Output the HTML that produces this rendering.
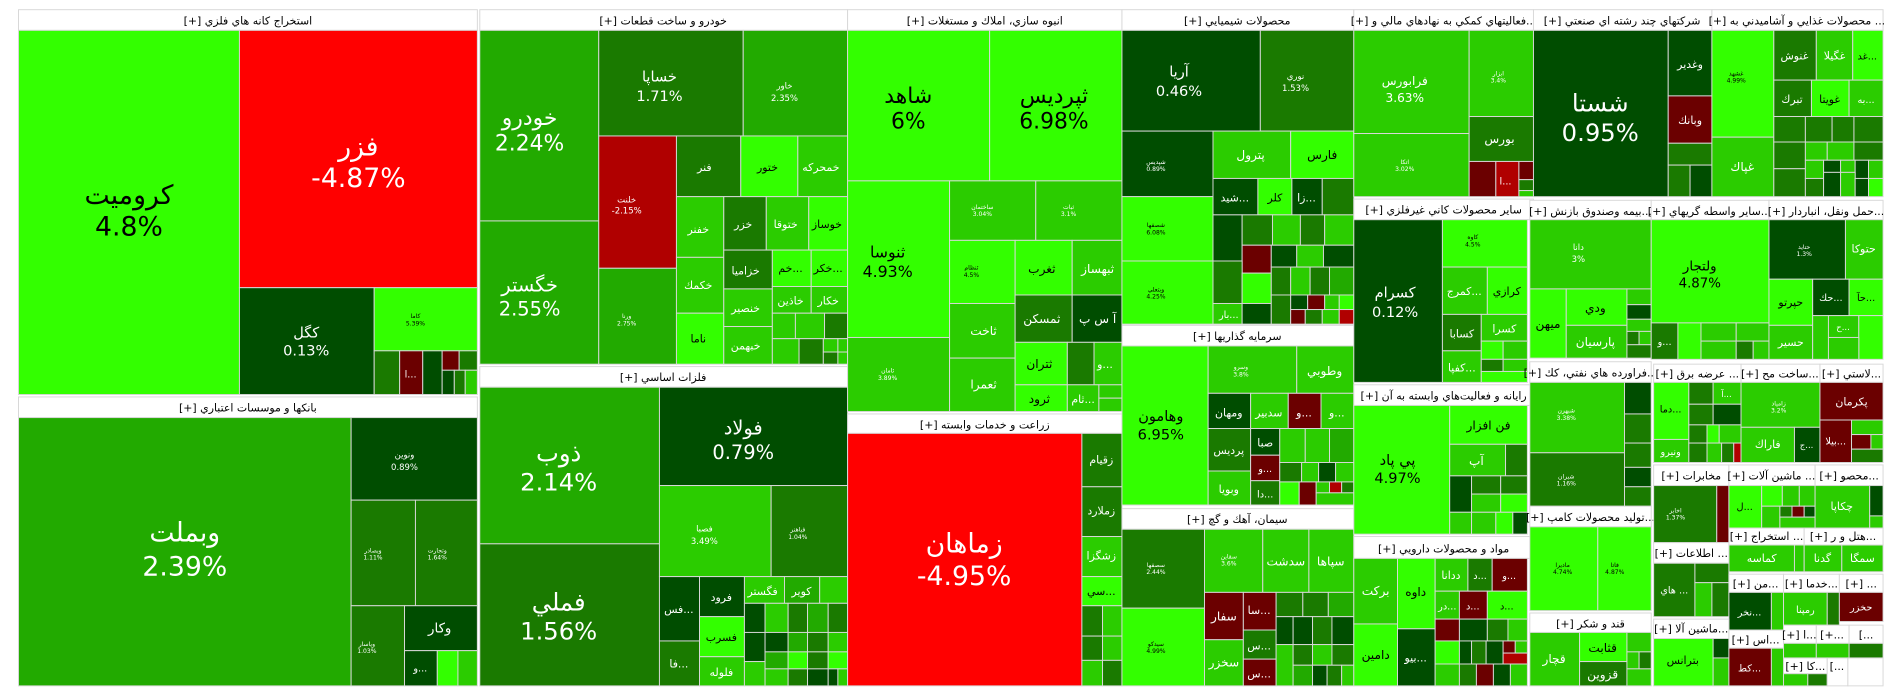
<!DOCTYPE html>
<html><head><meta charset="utf-8"><style>
html,body{margin:0;padding:0;background:#fff;width:1904px;height:698px;overflow:hidden}
svg{display:block}
.B{fill:#33ff00}.M{fill:#2bcc00}.G{fill:#22aa00}.K{fill:#1a7a00}.D{fill:#004d00}.X{fill:#6b0000}.R{fill:#ff0000}.Q{fill:#b00000}.W{fill:#fff}
rect{stroke:#d8d8d8;stroke-width:0.8}
text{font-family:"DejaVu Sans","Liberation Sans",sans-serif;text-anchor:middle;fill:#fff}
.k{fill:#000}
.h{fill:#000;font-size:9px}
</style></head><body>
<svg width="1904" height="698" viewBox="0 0 1568 575" xmlns="http://www.w3.org/2000/svg">
<!-- Sector 1 -->
<rect class="W" x="15" y="8" width="378" height="17"/><text class="h" x="204" y="20">[+] استخراج كانه هاي فلزي</text>
<rect class="B" x="15" y="25" width="182" height="300"/><text class="k" x="106" y="168" font-size="22">كروميت</text><text class="k" x="106" y="194" font-size="22">4.8%</text>
<rect class="R" x="197" y="25" width="196" height="212"/><text x="295" y="128" font-size="22">فزر</text><text x="295" y="154" font-size="22">-4.87%</text>
<rect class="D" x="197" y="237" width="111" height="88"/><text x="252" y="278" font-size="12">كگل</text><text x="252" y="293" font-size="12">0.13%</text>
<rect class="B" x="308" y="237" width="85" height="52"/><text class="k" x="342" y="262" font-size="5">كاما</text><text class="k" x="342" y="268" font-size="5">5.39%</text>
<rect class="K" x="308" y="289" width="21" height="36"/><rect class="X" x="329" y="289" width="19" height="36"/><text x="338" y="311" font-size="8">ا...</text>
<rect class="D" x="348" y="289" width="16" height="36"/><rect class="X" x="364" y="289" width="14" height="16"/><rect class="K" x="378" y="289" width="15" height="16"/>
<rect class="D" x="364" y="305" width="10" height="20"/><rect class="K" x="374" y="305" width="9" height="20"/><rect class="M" x="383" y="305" width="10" height="20"/>
<!-- Banks -->
<rect class="W" x="15" y="327" width="378" height="17"/><text class="h" x="204" y="339">[+] بانكها و موسسات اعتباري</text>
<rect class="G" x="15" y="344" width="274" height="221"/><text x="152" y="446" font-size="22">وبملت</text><text x="152" y="474" font-size="22">2.39%</text>
<rect class="D" x="289" y="344" width="104" height="68"/><text x="333" y="377" font-size="7">ونوين</text><text x="333" y="387" font-size="7">0.89%</text>
<rect class="K" x="289" y="412" width="53" height="87"/><text x="307" y="455" font-size="5">وبصادر</text><text x="307" y="461" font-size="5">1.11%</text>
<rect class="K" x="342" y="412" width="51" height="87"/><text x="360" y="455" font-size="5">وتجارت</text><text x="360" y="461" font-size="5">1.64%</text>
<rect class="K" x="289" y="499" width="44" height="66"/><text x="302" y="532" font-size="5">وپاسار</text><text x="302" y="538" font-size="5">1.03%</text>
<rect class="D" x="333" y="499" width="60" height="37"/><text x="362" y="521" font-size="11">وكار</text>
<rect class="D" x="333" y="536" width="27" height="29"/><text x="346" y="553" font-size="8">و...</text>
<rect class="B" x="360" y="536" width="17" height="29"/><rect class="M" x="377" y="536" width="16" height="29"/>
<!-- Auto -->
<rect class="W" x="395" y="8" width="303" height="17"/><text class="h" x="546" y="20">[+] خودرو و ساخت قطعات</text>
<rect class="G" x="395" y="25" width="98" height="157"/><text x="436" y="103" font-size="18">خودرو</text><text x="436" y="124" font-size="18">2.24%</text>
<rect class="G" x="395" y="182" width="98" height="118"/><text x="436" y="240" font-size="16">خگستر</text><text x="436" y="260" font-size="16">2.55%</text>
<rect class="K" x="493" y="25" width="119" height="87"/><text x="543" y="67" font-size="12">خساپا</text><text x="543" y="83" font-size="12">1.71%</text>
<rect class="G" x="612" y="25" width="86" height="87"/><text x="646" y="73" font-size="7">خاور</text><text x="646" y="83" font-size="7">2.35%</text>
<rect class="Q" x="493" y="112" width="64" height="109"/><text x="516" y="167" font-size="7">خلنت</text><text x="516" y="176" font-size="7">-2.15%</text>
<rect class="G" x="493" y="221" width="64" height="79"/><text x="516" y="262" font-size="5">ورنا</text><text x="516" y="268" font-size="5">2.75%</text>
<rect class="K" x="557" y="112" width="53" height="50"/><text x="580" y="141" font-size="9">فنر</text>
<rect class="B" x="610" y="112" width="47" height="50"/><text class="k" x="632" y="141" font-size="9">ختور</text>
<rect class="M" x="657" y="112" width="41" height="50"/><text x="676" y="141" font-size="9">خمحركه</text>
<rect class="M" x="557" y="162" width="39" height="50"/><text x="575" y="192" font-size="9">خفنر</text>
<rect class="K" x="596" y="162" width="35" height="44"/><text x="612" y="188" font-size="9">خزر</text>
<rect class="M" x="631" y="162" width="35" height="44"/><text x="647" y="188" font-size="9">ختوقا</text>
<rect class="B" x="666" y="162" width="32" height="44"/><text class="k" x="681" y="188" font-size="9">خوساز</text>
<rect class="M" x="557" y="212" width="39" height="46"/><text x="575" y="238" font-size="9">خكمك</text>
<rect class="B" x="557" y="258" width="39" height="42"/><text class="k" x="575" y="282" font-size="9">ناما</text>
<rect class="K" x="596" y="206" width="40" height="32"/><text x="614" y="226" font-size="9">خزاميا</text>
<rect class="M" x="596" y="238" width="40" height="31"/><text x="614" y="257" font-size="9">خنصير</text>
<rect class="M" x="596" y="269" width="40" height="31"/><text x="614" y="288" font-size="9">خبهمن</text>
<rect class="B" x="636" y="206" width="32" height="30"/><text class="k" x="651" y="224" font-size="9">خم...</text>
<rect class="B" x="668" y="206" width="30" height="30"/><text class="k" x="682" y="224" font-size="9">خكر...</text>
<rect class="M" x="636" y="236" width="32" height="22"/><text x="651" y="251" font-size="9">خاذين</text>
<rect class="M" x="668" y="236" width="30" height="22"/><text x="682" y="251" font-size="9">خكار</text>
<rect class="M" x="636" y="258" width="19" height="21"/><rect class="M" x="655" y="258" width="24" height="21"/><rect class="K" x="679" y="258" width="19" height="21"/>
<rect class="M" x="636" y="279" width="22" height="21"/><rect class="K" x="658" y="279" width="20" height="21"/><rect class="M" x="678" y="279" width="12" height="11"/><rect class="M" x="690" y="279" width="8" height="11"/><rect class="K" x="678" y="290" width="12" height="10"/><rect class="M" x="690" y="290" width="8" height="10"/>
<!-- Metals -->
<rect class="W" x="395" y="302" width="303" height="17"/><text class="h" x="546" y="314">[+] فلزات اساسي</text>
<rect class="G" x="395" y="319" width="148" height="129"/><text x="460" y="380" font-size="20">ذوب</text><text x="460" y="404" font-size="20">2.14%</text>
<rect class="K" x="395" y="448" width="148" height="117"/><text x="460" y="503" font-size="20">فملي</text><text x="460" y="527" font-size="20">1.56%</text>
<rect class="D" x="543" y="319" width="155" height="81"/><text x="612" y="358" font-size="16">فولاد</text><text x="612" y="378" font-size="16">0.79%</text>
<rect class="M" x="543" y="400" width="92" height="75"/><text x="580" y="438" font-size="7">فصبا</text><text x="580" y="448" font-size="7">3.49%</text>
<rect class="K" x="635" y="400" width="63" height="75"/><text x="657" y="438" font-size="5">فباهنر</text><text x="657" y="444" font-size="5">1.04%</text>
<rect class="D" x="543" y="475" width="33" height="53"/><text x="559" y="505" font-size="9">فس...</text>
<rect class="K" x="543" y="528" width="33" height="37"/><text x="559" y="550" font-size="9">فا...</text>
<rect class="D" x="576" y="475" width="37" height="33"/><text x="594" y="495" font-size="9">فرود</text>
<rect class="B" x="576" y="508" width="37" height="33"/><text class="k" x="594" y="528" font-size="9">فسرب</text>
<rect class="M" x="576" y="541" width="37" height="24"/><text x="594" y="557" font-size="9">فلوله</text>
<rect class="M" x="613" y="475" width="33" height="22"/><text x="628" y="490" font-size="9">فگستر</text>
<rect class="G" x="646" y="475" width="29" height="22"/><text x="660" y="490" font-size="9">كوير</text>
<rect class="M" x="675" y="475" width="23" height="22"/>
<rect class="D" x="613" y="497" width="17" height="24"/><rect class="M" x="630" y="497" width="19" height="24"/><rect class="K" x="649" y="497" width="16" height="24"/><rect class="G" x="665" y="497" width="17" height="24"/><rect class="K" x="682" y="497" width="16" height="24"/>
<rect class="D" x="613" y="521" width="17" height="24"/><rect class="D" x="630" y="521" width="19" height="16"/><rect class="G" x="649" y="521" width="16" height="16"/><rect class="K" x="665" y="521" width="17" height="16"/><rect class="M" x="682" y="521" width="16" height="16"/>
<rect class="M" x="613" y="545" width="17" height="20"/><rect class="G" x="630" y="537" width="19" height="14"/><rect class="B" x="649" y="537" width="16" height="14"/><rect class="K" x="665" y="537" width="17" height="14"/><rect class="B" x="682" y="537" width="16" height="14"/>
<rect class="M" x="630" y="551" width="19" height="14"/><rect class="K" x="649" y="551" width="16" height="14"/><rect class="D" x="665" y="551" width="17" height="14"/><rect class="D" x="682" y="551" width="8" height="14"/><rect class="M" x="690" y="551" width="8" height="14"/>
<!-- Real estate -->
<rect class="W" x="698" y="8" width="226" height="17"/><text class="h" x="811" y="20">[+] انبوه سازي، املاك و مستغلات</text>
<rect class="B" x="698" y="25" width="117" height="124"/><text class="k" x="748" y="85" font-size="18">شاهد</text><text class="k" x="748" y="106" font-size="18">6%</text>
<rect class="B" x="815" y="25" width="109" height="124"/><text class="k" x="868" y="85" font-size="18">ثپرديس</text><text class="k" x="868" y="106" font-size="18">6.98%</text>
<rect class="B" x="698" y="149" width="84" height="129"/><text class="k" x="731" y="212" font-size="13">ثنوسا</text><text class="k" x="731" y="228" font-size="13">4.93%</text>
<rect class="M" x="698" y="278" width="84" height="61"/><text x="731" y="307" font-size="5">ثامان</text><text x="731" y="313" font-size="5">3.89%</text>
<rect class="M" x="782" y="149" width="71" height="49"/><text x="809" y="172" font-size="5">ساختمان</text><text x="809" y="178" font-size="5">3.04%</text>
<rect class="M" x="853" y="149" width="71" height="49"/><text x="880" y="172" font-size="5">ثبات</text><text x="880" y="178" font-size="5">3.1%</text>
<rect class="B" x="782" y="198" width="54" height="52"/><text class="k" x="800" y="222" font-size="5">ثنظام</text><text class="k" x="800" y="228" font-size="5">4.5%</text>
<rect class="B" x="836" y="198" width="47" height="45"/><text class="k" x="858" y="225" font-size="10">ثغرب</text>
<rect class="M" x="883" y="198" width="41" height="45"/><text x="904" y="225" font-size="10">ثبهساز</text>
<rect class="M" x="782" y="250" width="54" height="45"/><text x="810" y="276" font-size="10">ثاخت</text>
<rect class="M" x="782" y="295" width="54" height="44"/><text x="810" y="320" font-size="10">ثعمرا</text>
<rect class="K" x="836" y="243" width="47" height="39"/><text x="858" y="266" font-size="10">ثمسكن</text>
<rect class="D" x="883" y="243" width="41" height="39"/><text x="904" y="266" font-size="10">آ س پ</text>
<rect class="B" x="836" y="282" width="43" height="35"/><text class="k" x="856" y="303" font-size="10">ثتران</text>
<rect class="B" x="836" y="317" width="43" height="22"/><text class="k" x="856" y="332" font-size="10">ثرود</text>
<rect class="K" x="879" y="282" width="22" height="35"/><rect class="M" x="901" y="282" width="23" height="35"/><text x="910" y="303" font-size="9">و...</text>
<rect class="M" x="879" y="317" width="26" height="22"/><text x="892" y="332" font-size="9">ثام...</text><rect class="M" x="905" y="317" width="19" height="11"/><rect class="M" x="905" y="328" width="19" height="11"/>
<!-- Agriculture -->
<rect class="W" x="698" y="341" width="226" height="16"/><text class="h" x="811" y="353">[+] زراعت و خدمات وابسته</text>
<rect class="R" x="698" y="357" width="193" height="208"/><text x="794" y="455" font-size="22">زماهان</text><text x="794" y="482" font-size="22">-4.95%</text>
<rect class="K" x="891" y="357" width="33" height="44"/><text x="907" y="382" font-size="9">زقيام</text>
<rect class="K" x="891" y="401" width="33" height="41"/><text x="907" y="424" font-size="9">زملارد</text>
<rect class="M" x="891" y="442" width="33" height="33"/><text x="907" y="461" font-size="9">زشگزا</text>
<rect class="B" x="891" y="475" width="33" height="24"/><text class="k" x="907" y="490" font-size="9">سي...</text>
<rect class="K" x="891" y="499" width="17" height="25"/><rect class="M" x="908" y="499" width="16" height="25"/><rect class="K" x="891" y="524" width="17" height="20"/><rect class="M" x="908" y="524" width="16" height="20"/><rect class="M" x="891" y="544" width="17" height="21"/><rect class="K" x="908" y="544" width="16" height="21"/>
<!-- Chemicals -->
<rect class="W" x="924" y="8" width="191" height="17"/><text class="h" x="1019" y="20">[+] محصولات شيميايي</text>
<rect class="D" x="924" y="25" width="114" height="83"/><text x="971" y="63" font-size="12">آريا</text><text x="971" y="79" font-size="12">0.46%</text>
<rect class="K" x="1038" y="25" width="77" height="83"/><text x="1067" y="65" font-size="7">نوري</text><text x="1067" y="75" font-size="7">1.53%</text>
<rect class="D" x="924" y="108" width="75" height="54"/><text x="952" y="135" font-size="5">شپديس</text><text x="952" y="141" font-size="5">0.89%</text>
<rect class="M" x="999" y="108" width="64" height="39"/><text x="1030" y="131" font-size="10">پترول</text>
<rect class="B" x="1063" y="108" width="52" height="39"/><text class="k" x="1089" y="131" font-size="10">فارس</text>
<rect class="D" x="999" y="147" width="37" height="30"/><text x="1017" y="166" font-size="9">شيد...</text>
<rect class="B" x="1036" y="147" width="28" height="30"/><text class="k" x="1050" y="166" font-size="9">كلر</text>
<rect class="D" x="1064" y="147" width="25" height="30"/><text x="1076" y="166" font-size="9">زا...</text>
<rect class="K" x="1089" y="147" width="26" height="30"/>
<rect class="B" x="924" y="162" width="75" height="53"/><text class="k" x="952" y="187" font-size="5">شصفها</text><text class="k" x="952" y="193" font-size="5">6.08%</text>
<rect class="B" x="924" y="215" width="75" height="52"/><text class="k" x="952" y="240" font-size="5">وبتعلي</text><text class="k" x="952" y="246" font-size="5">4.25%</text>
<rect class="D" x="999" y="177" width="24" height="38"/><rect class="K" x="1023" y="177" width="25" height="25"/><rect class="M" x="1048" y="177" width="23" height="25"/><rect class="K" x="1071" y="177" width="20" height="25"/><rect class="M" x="1091" y="177" width="24" height="25"/>
<rect class="X" x="1023" y="202" width="24" height="23"/><rect class="D" x="1047" y="202" width="21" height="18"/><rect class="M" x="1068" y="202" width="22" height="18"/><rect class="D" x="1090" y="202" width="25" height="18"/>
<rect class="K" x="999" y="215" width="24" height="35"/><rect class="B" x="1023" y="225" width="24" height="25"/><rect class="K" x="1047" y="220" width="16" height="23"/><rect class="M" x="1063" y="220" width="16" height="23"/><rect class="K" x="1079" y="220" width="16" height="23"/><rect class="G" x="1095" y="220" width="20" height="23"/>
<rect class="M" x="999" y="250" width="24" height="17"/><rect class="D" x="1023" y="250" width="24" height="17"/><text x="1012" y="262" font-size="8">بار...</text>
<rect class="K" x="1047" y="243" width="16" height="24"/><rect class="D" x="1063" y="243" width="14" height="12"/><rect class="X" x="1077" y="243" width="14" height="12"/><rect class="M" x="1091" y="243" width="12" height="12"/><rect class="B" x="1103" y="243" width="12" height="12"/>
<rect class="X" x="1063" y="255" width="12" height="12"/><rect class="K" x="1075" y="255" width="14" height="12"/><rect class="M" x="1089" y="255" width="14" height="12"/><rect class="Q" x="1103" y="255" width="12" height="12"/>
<!-- Investment -->
<rect class="W" x="924" y="268" width="191" height="17"/><text class="h" x="1019" y="280">[+] سرمايه گذاريها</text>
<rect class="B" x="924" y="285" width="71" height="131"/><text class="k" x="956" y="347" font-size="12">وهامون</text><text class="k" x="956" y="362" font-size="12">6.95%</text>
<rect class="M" x="995" y="285" width="73" height="39"/><text x="1022" y="304" font-size="5">وسرو</text><text x="1022" y="310" font-size="5">3.8%</text>
<rect class="M" x="1068" y="285" width="47" height="39"/><text x="1091" y="309" font-size="10">وطوبي</text>
<rect class="D" x="995" y="324" width="35" height="29"/><text x="1012" y="343" font-size="9">ومهان</text>
<rect class="M" x="1030" y="324" width="31" height="29"/><text x="1045" y="343" font-size="9">سدبير</text>
<rect class="X" x="1061" y="324" width="27" height="29"/><text x="1074" y="343" font-size="9">و...</text>
<rect class="M" x="1088" y="324" width="27" height="29"/><text x="1101" y="343" font-size="9">و...</text>
<rect class="K" x="995" y="353" width="35" height="35"/><text x="1012" y="374" font-size="9">پرديس</text>
<rect class="M" x="995" y="388" width="35" height="28"/><text x="1012" y="406" font-size="9">وبويا</text>
<rect class="D" x="1030" y="353" width="24" height="22"/><text x="1042" y="368" font-size="9">صبا</text>
<rect class="X" x="1030" y="375" width="24" height="21"/><text x="1042" y="389" font-size="8">و...</text>
<rect class="K" x="1030" y="396" width="24" height="20"/><text x="1042" y="410" font-size="8">دا...</text>
<rect class="M" x="1054" y="353" width="21" height="28"/><rect class="M" x="1075" y="353" width="20" height="28"/><rect class="G" x="1095" y="353" width="20" height="28"/>
<rect class="K" x="1054" y="381" width="18" height="16"/><rect class="M" x="1072" y="381" width="14" height="16"/><rect class="D" x="1086" y="381" width="14" height="16"/><rect class="M" x="1100" y="381" width="15" height="16"/>
<rect class="B" x="1054" y="397" width="16" height="19"/><rect class="X" x="1070" y="397" width="14" height="19"/><rect class="M" x="1084" y="397" width="11" height="9"/><rect class="Q" x="1095" y="397" width="10" height="9"/><rect class="K" x="1105" y="397" width="10" height="9"/><rect class="M" x="1084" y="406" width="31" height="10"/>
<!-- Cement -->
<rect class="W" x="924" y="419" width="191" height="17"/><text class="h" x="1019" y="431">[+] سيمان، آهك و گچ</text>
<rect class="K" x="924" y="436" width="68" height="65"/><text x="952" y="467" font-size="5">سصفها</text><text x="952" y="473" font-size="5">2.44%</text>
<rect class="B" x="924" y="501" width="68" height="64"/><text class="k" x="952" y="532" font-size="5">سيدكو</text><text class="k" x="952" y="538" font-size="5">4.99%</text>
<rect class="M" x="992" y="436" width="48" height="52"/><text x="1012" y="460" font-size="5">سقاين</text><text x="1012" y="466" font-size="5">3.6%</text>
<rect class="M" x="1040" y="436" width="38" height="52"/><text x="1059" y="466" font-size="10">سدشت</text>
<rect class="M" x="1078" y="436" width="37" height="52"/><text x="1096" y="466" font-size="10">سپاها</text>
<rect class="X" x="992" y="488" width="32" height="39"/><text x="1008" y="511" font-size="10">سفار</text>
<rect class="X" x="1024" y="488" width="27" height="31"/><text x="1037" y="506" font-size="9">سا...</text>
<rect class="M" x="992" y="527" width="32" height="38"/><text x="1008" y="549" font-size="10">سخزر</text>
<rect class="K" x="1024" y="519" width="27" height="24"/><text x="1037" y="535" font-size="9">س...</text>
<rect class="X" x="1024" y="543" width="27" height="22"/><text x="1037" y="558" font-size="9">س...</text>
<rect class="K" x="1051" y="488" width="22" height="20"/><rect class="K" x="1073" y="488" width="21" height="20"/><rect class="G" x="1094" y="488" width="21" height="20"/>
<rect class="D" x="1051" y="508" width="14" height="23"/><rect class="D" x="1065" y="508" width="16" height="23"/><rect class="K" x="1081" y="508" width="16" height="23"/><rect class="D" x="1097" y="508" width="18" height="23"/>
<rect class="M" x="1051" y="531" width="14" height="34"/><rect class="K" x="1065" y="531" width="16" height="17"/><rect class="M" x="1081" y="531" width="16" height="17"/><rect class="K" x="1097" y="531" width="18" height="17"/>
<rect class="G" x="1065" y="548" width="16" height="17"/><rect class="D" x="1081" y="548" width="12" height="17"/><rect class="K" x="1093" y="548" width="12" height="17"/><rect class="M" x="1105" y="548" width="10" height="17"/>
<!-- Financial aux -->
<rect class="W" x="1115" y="8" width="148" height="17"/><text class="h" x="1189" y="20">[+] فعاليتهاي كمكي به نهادهاي مالي و...</text>
<rect class="M" x="1115" y="25" width="95" height="85"/><text x="1157" y="70" font-size="10">فرابورس</text><text x="1157" y="84" font-size="10">3.63%</text>
<rect class="M" x="1115" y="110" width="95" height="52"/><text x="1157" y="135" font-size="5">اتكا</text><text x="1157" y="141" font-size="5">3.02%</text>
<rect class="M" x="1210" y="25" width="53" height="71"/><text x="1234" y="62" font-size="5">ابزار</text><text x="1234" y="68" font-size="5">3.4%</text>
<rect class="K" x="1210" y="96" width="53" height="37"/><text x="1235" y="118" font-size="10">بورس</text>
<rect class="X" x="1210" y="133" width="22" height="29"/><rect class="Q" x="1232" y="133" width="19" height="29"/><text x="1240" y="152" font-size="8">ا...</text><rect class="X" x="1251" y="133" width="12" height="15"/><rect class="K" x="1251" y="148" width="12" height="9"/><rect class="M" x="1251" y="157" width="12" height="5"/>
<!-- Non-metal -->
<rect class="W" x="1115" y="164" width="148" height="17"/><text class="h" x="1189" y="176">[+] ساير محصولات كاني غيرفلزي</text>
<rect class="D" x="1115" y="181" width="73" height="134"/><text x="1149" y="245" font-size="12">كسرام</text><text x="1149" y="261" font-size="12">0.12%</text>
<rect class="B" x="1188" y="181" width="70" height="39"/><text class="k" x="1213" y="197" font-size="5">كاوه</text><text class="k" x="1213" y="203" font-size="5">4.5%</text>
<rect class="M" x="1188" y="220" width="37" height="39"/><text x="1206" y="243" font-size="9">كمرج...</text>
<rect class="B" x="1225" y="220" width="33" height="39"/><text class="k" x="1241" y="243" font-size="9">كرازي</text>
<rect class="K" x="1188" y="259" width="32" height="30"/><text x="1204" y="278" font-size="9">كسابا</text>
<rect class="M" x="1220" y="259" width="38" height="22"/><text x="1239" y="274" font-size="9">كسرا</text>
<rect class="M" x="1188" y="289" width="32" height="26"/><text x="1204" y="306" font-size="9">كفپا...</text>
<rect class="B" x="1220" y="281" width="18" height="15"/><rect class="M" x="1238" y="281" width="20" height="15"/><rect class="K" x="1220" y="296" width="18" height="10"/><rect class="M" x="1238" y="296" width="20" height="10"/><rect class="B" x="1220" y="306" width="38" height="9"/>
<!-- IT -->
<rect class="W" x="1115" y="317" width="148" height="17"/><text class="h" x="1189" y="329">[+] رايانه و فعاليت‌هاي وابسته به آن</text>
<rect class="B" x="1115" y="334" width="79" height="106"/><text class="k" x="1151" y="383" font-size="12">پي پاد</text><text class="k" x="1151" y="398" font-size="12">4.97%</text>
<rect class="B" x="1194" y="334" width="64" height="32"/><text class="k" x="1226" y="354" font-size="10">فن افزار</text>
<rect class="M" x="1194" y="366" width="46" height="26"/><text x="1216" y="383" font-size="10">آپ</text><rect class="K" x="1240" y="366" width="18" height="26"/>
<rect class="D" x="1194" y="392" width="18" height="30"/><rect class="K" x="1212" y="392" width="24" height="15"/><rect class="K" x="1236" y="392" width="22" height="15"/><rect class="M" x="1212" y="407" width="24" height="15"/><rect class="B" x="1236" y="407" width="22" height="15"/>
<rect class="M" x="1194" y="422" width="18" height="18"/><rect class="M" x="1212" y="422" width="20" height="18"/><rect class="B" x="1232" y="422" width="14" height="18"/><rect class="D" x="1246" y="422" width="12" height="18"/>
<!-- Pharma -->
<rect class="W" x="1115" y="442" width="148" height="18"/><text class="h" x="1189" y="455">[+] مواد و محصولات دارويي</text>
<rect class="M" x="1115" y="460" width="36" height="54"/><text x="1133" y="490" font-size="10">بركت</text>
<rect class="B" x="1115" y="514" width="36" height="51"/><text class="k" x="1133" y="543" font-size="10">دامين</text>
<rect class="B" x="1151" y="460" width="31" height="58"/><text class="k" x="1166" y="491" font-size="10">داوه</text>
<rect class="D" x="1151" y="518" width="31" height="47"/><text x="1166" y="545" font-size="9">بيو...</text>
<rect class="M" x="1182" y="460" width="27" height="27"/><text x="1195" y="477" font-size="9">ددانا</text>
<rect class="K" x="1209" y="460" width="20" height="27"/><text x="1219" y="477" font-size="8">د...</text>
<rect class="X" x="1229" y="460" width="29" height="27"/><text x="1243" y="477" font-size="8">و...</text>
<rect class="M" x="1182" y="487" width="20" height="23"/><text x="1192" y="502" font-size="8">در...</text>
<rect class="X" x="1202" y="487" width="23" height="23"/><text x="1213" y="502" font-size="8">د...</text>
<rect class="B" x="1225" y="487" width="33" height="23"/><text class="k" x="1241" y="502" font-size="8">د...</text>
<rect class="X" x="1182" y="510" width="20" height="18"/><rect class="D" x="1202" y="510" width="23" height="18"/><rect class="K" x="1225" y="510" width="17" height="18"/><rect class="M" x="1242" y="510" width="16" height="18"/>
<rect class="B" x="1182" y="528" width="20" height="19"/><rect class="D" x="1202" y="528" width="10" height="19"/><rect class="K" x="1212" y="528" width="12" height="19"/><rect class="D" x="1224" y="528" width="14" height="19"/><rect class="X" x="1238" y="528" width="10" height="10"/><rect class="M" x="1248" y="528" width="10" height="10"/><rect class="Q" x="1238" y="538" width="20" height="9"/>
<rect class="M" x="1182" y="547" width="20" height="18"/><rect class="K" x="1202" y="547" width="14" height="18"/><rect class="X" x="1216" y="547" width="14" height="18"/><rect class="D" x="1230" y="547" width="14" height="18"/><rect class="M" x="1244" y="547" width="14" height="18"/>
<!-- Diversified -->
<rect class="W" x="1263" y="8" width="147" height="17"/><text class="h" x="1336" y="20">[+] شركتهاي چند رشته اي صنعتي</text>
<rect class="D" x="1263" y="25" width="111" height="137"/><text x="1318" y="92" font-size="20">شستا</text><text x="1318" y="116" font-size="20">0.95%</text>
<rect class="D" x="1374" y="25" width="36" height="54"/><text x="1392" y="56" font-size="9">وغدير</text>
<rect class="X" x="1374" y="79" width="36" height="39"/><text x="1392" y="102" font-size="9">وبانك</text>
<rect class="K" x="1374" y="118" width="36" height="18"/><rect class="K" x="1374" y="136" width="18" height="26"/><rect class="D" x="1392" y="136" width="18" height="26"/>
<!-- Insurance -->
<rect class="W" x="1260" y="165" width="100" height="16"/><text class="h" x="1310" y="177">[+] بيمه وصندوق بازنش...</text>
<rect class="M" x="1260" y="181" width="100" height="57"/><text x="1300" y="206" font-size="7">دانا</text><text x="1300" y="216" font-size="7">3%</text>
<rect class="B" x="1260" y="238" width="30" height="57"/><text class="k" x="1275" y="270" font-size="10">ميهن</text>
<rect class="B" x="1290" y="238" width="50" height="30"/><text class="k" x="1314" y="257" font-size="10">ودي</text>
<rect class="M" x="1290" y="268" width="50" height="27"/><text x="1314" y="285" font-size="10">پارسيان</text>
<rect class="M" x="1340" y="238" width="20" height="13"/><rect class="D" x="1340" y="251" width="20" height="12"/><rect class="M" x="1340" y="263" width="20" height="10"/><rect class="K" x="1340" y="273" width="10" height="11"/><rect class="M" x="1350" y="273" width="10" height="11"/><rect class="K" x="1340" y="284" width="20" height="11"/>
<!-- Oil -->
<rect class="W" x="1260" y="298" width="100" height="17"/><text class="h" x="1310" y="310">[+] فراورده هاي نفتي، كك...</text>
<rect class="M" x="1260" y="315" width="78" height="58"/><text x="1290" y="340" font-size="5">شبهرن</text><text x="1290" y="346" font-size="5">3.38%</text>
<rect class="K" x="1260" y="373" width="78" height="44"/><text x="1290" y="394" font-size="5">شبران</text><text x="1290" y="400" font-size="5">1.16%</text>
<rect class="D" x="1338" y="315" width="22" height="26"/><rect class="K" x="1338" y="341" width="22" height="24"/><rect class="K" x="1338" y="365" width="22" height="20"/><rect class="D" x="1338" y="385" width="22" height="16"/><rect class="K" x="1338" y="401" width="22" height="16"/>
<!-- Comp products -->
<rect class="W" x="1260" y="417" width="100" height="17"/><text class="h" x="1310" y="429">[+] توليد محصولات كامپ...</text>
<rect class="B" x="1260" y="434" width="56" height="69"/><text class="k" x="1287" y="467" font-size="5">ماديرا</text><text class="k" x="1287" y="473" font-size="5">4.74%</text>
<rect class="B" x="1316" y="434" width="44" height="69"/><text class="k" x="1330" y="467" font-size="5">فاتا</text><text class="k" x="1330" y="473" font-size="5">4.87%</text>
<!-- Sugar -->
<rect class="W" x="1260" y="505" width="100" height="16"/><text class="h" x="1310" y="517">[+] قند و شكر</text>
<rect class="M" x="1260" y="521" width="41" height="44"/><text x="1280" y="546" font-size="10">قچار</text>
<rect class="B" x="1301" y="521" width="39" height="24"/><text class="k" x="1320" y="537" font-size="10">قثابت</text>
<rect class="K" x="1301" y="545" width="39" height="20"/><text x="1320" y="559" font-size="10">قزوين</text>
<rect class="M" x="1340" y="521" width="20" height="16"/><rect class="M" x="1340" y="537" width="10" height="14"/><rect class="K" x="1350" y="537" width="10" height="14"/><rect class="M" x="1340" y="551" width="20" height="14"/>
<!-- Food -->
<rect class="W" x="1410" y="8" width="141" height="17"/><text class="h" x="1480" y="20">[+] محصولات غذايي و آشاميدني به ...</text>
<rect class="B" x="1410" y="25" width="51" height="88"/><text class="k" x="1430" y="62" font-size="5">غشهد</text><text class="k" x="1430" y="68" font-size="5">4.99%</text>
<rect class="M" x="1410" y="113" width="51" height="49"/><text x="1435" y="141" font-size="10">غپاك</text>
<rect class="K" x="1461" y="25" width="35" height="41"/><text x="1478" y="49" font-size="9">غنوش</text>
<rect class="M" x="1496" y="25" width="30" height="41"/><text x="1511" y="49" font-size="9">غگيلا</text>
<rect class="B" x="1526" y="25" width="25" height="41"/><text class="k" x="1538" y="49" font-size="8">غد...</text>
<rect class="K" x="1461" y="66" width="31" height="30"/><text x="1476" y="85" font-size="9">تبرك</text>
<rect class="B" x="1492" y="66" width="31" height="30"/><text class="k" x="1507" y="85" font-size="9">غويتا</text>
<rect class="M" x="1523" y="66" width="28" height="30"/><text x="1537" y="85" font-size="8">به...</text>
<rect class="K" x="1461" y="96" width="26" height="21"/><rect class="K" x="1487" y="96" width="22" height="21"/><rect class="K" x="1509" y="96" width="18" height="21"/><rect class="K" x="1527" y="96" width="24" height="21"/>
<rect class="K" x="1461" y="117" width="26" height="22"/><rect class="M" x="1487" y="117" width="18" height="15"/><rect class="M" x="1505" y="117" width="22" height="15"/><rect class="K" x="1527" y="117" width="24" height="15"/>
<rect class="K" x="1461" y="139" width="26" height="23"/><rect class="M" x="1487" y="132" width="15" height="15"/><rect class="D" x="1502" y="132" width="14" height="10"/><rect class="M" x="1516" y="132" width="12" height="10"/><rect class="D" x="1528" y="132" width="11" height="15"/><rect class="M" x="1539" y="132" width="12" height="15"/>
<rect class="K" x="1487" y="147" width="15" height="15"/><rect class="D" x="1502" y="142" width="14" height="20"/><rect class="M" x="1516" y="142" width="12" height="20"/><rect class="D" x="1528" y="147" width="11" height="15"/><rect class="B" x="1539" y="147" width="12" height="15"/>
<!-- Intermediaries -->
<rect class="W" x="1360" y="165" width="97" height="16"/><text class="h" x="1408" y="177">[+] ساير واسطه گريهاي...</text>
<rect class="B" x="1360" y="181" width="97" height="85"/><text class="k" x="1400" y="223" font-size="11">ولتجار</text><text class="k" x="1400" y="237" font-size="11">4.87%</text>
<rect class="K" x="1360" y="266" width="22" height="30"/><text x="1371" y="284" font-size="8">و...</text><rect class="B" x="1382" y="266" width="19" height="30"/><rect class="M" x="1401" y="266" width="29" height="15"/><rect class="M" x="1430" y="266" width="27" height="15"/><rect class="M" x="1401" y="281" width="29" height="15"/><rect class="K" x="1430" y="281" width="14" height="15"/><rect class="M" x="1444" y="281" width="13" height="15"/>
<!-- Transport -->
<rect class="W" x="1457" y="165" width="94" height="16"/><text class="h" x="1504" y="177">[+] حمل ونقل، انباردار...</text>
<rect class="D" x="1457" y="181" width="63" height="49"/><text x="1486" y="205" font-size="5">حتايد</text><text x="1486" y="211" font-size="5">1.3%</text>
<rect class="M" x="1520" y="181" width="31" height="49"/><text x="1535" y="208" font-size="9">حتوكا</text>
<rect class="B" x="1457" y="230" width="36" height="38"/><text class="k" x="1475" y="252" font-size="9">حپرتو</text>
<rect class="D" x="1493" y="230" width="30" height="30"/><text x="1508" y="248" font-size="8">حك...</text>
<rect class="B" x="1523" y="230" width="28" height="30"/><text class="k" x="1537" y="248" font-size="8">حآ...</text>
<rect class="M" x="1457" y="268" width="36" height="28"/><text x="1475" y="285" font-size="9">حسير</text>
<rect class="M" x="1493" y="260" width="13" height="36"/><rect class="M" x="1506" y="260" width="25" height="18"/><text x="1518" y="272" font-size="7">ح...</text><rect class="B" x="1531" y="260" width="20" height="36"/><rect class="M" x="1506" y="278" width="25" height="18"/>
<!-- Power -->
<rect class="W" x="1362" y="300" width="72" height="15"/><text class="h" x="1398" y="311">[+] عرضه برق ...</text>
<rect class="B" x="1362" y="315" width="29" height="47"/><text class="k" x="1376" y="340" font-size="8">دما...</text>
<rect class="M" x="1362" y="362" width="29" height="19"/><text x="1376" y="375" font-size="8">ونيرو</text>
<rect class="K" x="1391" y="315" width="20" height="18"/><rect class="M" x="1411" y="315" width="23" height="18"/><text x="1422" y="327" font-size="7">آ...</text><rect class="K" x="1391" y="333" width="20" height="17"/><rect class="D" x="1411" y="333" width="23" height="17"/>
<rect class="K" x="1391" y="350" width="15" height="15"/><rect class="B" x="1406" y="350" width="10" height="15"/><rect class="M" x="1416" y="350" width="18" height="15"/><rect class="K" x="1391" y="365" width="15" height="16"/><rect class="M" x="1406" y="365" width="12" height="16"/><rect class="K" x="1418" y="365" width="10" height="16"/><rect class="Q" x="1428" y="365" width="6" height="16"/>
<!-- Auto parts 2 -->
<rect class="W" x="1434" y="300" width="65" height="15"/><text class="h" x="1466" y="311">[+] ساخت مح...</text>
<rect class="M" x="1434" y="315" width="65" height="37"/><text x="1465" y="334" font-size="5">زامياد</text><text x="1465" y="340" font-size="5">3.2%</text>
<rect class="M" x="1434" y="352" width="44" height="29"/><text x="1456" y="369" font-size="9">فاراك</text>
<rect class="D" x="1478" y="352" width="21" height="29"/><text x="1488" y="369" font-size="7">ج...</text>
<!-- Rubber -->
<rect class="W" x="1499" y="300" width="52" height="15"/><text class="h" x="1525" y="311">[+] لاستي...</text>
<rect class="X" x="1499" y="315" width="52" height="31"/><text x="1525" y="334" font-size="9">پكرمان</text>
<rect class="X" x="1499" y="346" width="26" height="35"/><text x="1512" y="366" font-size="8">بيلا...</text>
<rect class="M" x="1525" y="346" width="26" height="12"/><rect class="X" x="1525" y="358" width="16" height="12"/><rect class="M" x="1541" y="358" width="10" height="12"/><rect class="K" x="1525" y="370" width="26" height="11"/>
<!-- Telecom -->
<rect class="W" x="1362" y="383" width="62" height="17"/><text class="h" x="1393" y="395">[+] مخابرات</text>
<rect class="K" x="1362" y="400" width="52" height="47"/><text x="1380" y="422" font-size="5">اخابر</text><text x="1380" y="428" font-size="5">1.37%</text>
<rect class="X" x="1414" y="400" width="10" height="47"/>
<!-- Machinery -->
<rect class="W" x="1424" y="383" width="71" height="17"/><text class="h" x="1459" y="395">[+] ماشين آلات ...</text>
<rect class="B" x="1424" y="400" width="27" height="35"/><text class="k" x="1437" y="420" font-size="8">ل...</text>
<rect class="B" x="1451" y="400" width="17" height="17"/><rect class="M" x="1468" y="400" width="14" height="17"/><rect class="M" x="1482" y="400" width="13" height="17"/><rect class="M" x="1451" y="417" width="15" height="18"/><rect class="K" x="1466" y="417" width="10" height="9"/><rect class="X" x="1476" y="417" width="10" height="9"/><rect class="D" x="1486" y="417" width="9" height="9"/><rect class="M" x="1466" y="426" width="29" height="9"/>
<!-- Misc -->
<rect class="W" x="1495" y="383" width="56" height="17"/><text class="h" x="1523" y="395">[+] محصو...</text>
<rect class="M" x="1495" y="400" width="45" height="35"/><text x="1517" y="420" font-size="9">چكاپا</text><rect class="D" x="1540" y="400" width="11" height="25"/><rect class="M" x="1540" y="425" width="11" height="10"/>
<rect class="W" x="1424" y="435" width="62" height="14"/><text class="h" x="1455" y="445">[+] استخراج ...</text>
<rect class="M" x="1424" y="449" width="54" height="22"/><text x="1451" y="463" font-size="9">كماسه</text><rect class="M" x="1478" y="449" width="8" height="22"/>
<rect class="W" x="1486" y="435" width="65" height="14"/><text class="h" x="1518" y="445">[+] هتل و ر...</text>
<rect class="M" x="1486" y="449" width="31" height="22"/><text x="1501" y="463" font-size="9">گدنا</text><rect class="M" x="1517" y="449" width="34" height="22"/><text x="1534" y="463" font-size="9">سمگا</text>
<rect class="W" x="1362" y="447" width="62" height="17"/><text class="h" x="1393" y="459">[+] اطلاعات ...</text>
<rect class="K" x="1362" y="464" width="34" height="44"/><text x="1379" y="489" font-size="8">هاي ...</text><rect class="K" x="1396" y="464" width="28" height="16"/><rect class="M" x="1396" y="480" width="14" height="28"/><rect class="K" x="1410" y="480" width="14" height="28"/>
<rect class="W" x="1424" y="473" width="45" height="15"/><text class="h" x="1446" y="484">[+] من...</text>
<rect class="D" x="1424" y="488" width="35" height="31"/><text x="1441" y="507" font-size="8">نخر...</text><rect class="M" x="1459" y="488" width="10" height="31"/>
<rect class="W" x="1469" y="473" width="46" height="15"/><text class="h" x="1492" y="484">[+] خدما...</text>
<rect class="M" x="1469" y="488" width="36" height="27"/><text x="1487" y="505" font-size="8">رمپنا</text><rect class="K" x="1505" y="488" width="10" height="27"/>
<rect class="W" x="1515" y="473" width="36" height="15"/><text class="h" x="1533" y="484">[+] ...</text>
<rect class="X" x="1515" y="488" width="36" height="24"/><text x="1533" y="503" font-size="8">حخزر</text>
<rect class="W" x="1362" y="510" width="62" height="16"/><text class="h" x="1393" y="521">[+] ماشين آلا...</text>
<rect class="B" x="1362" y="526" width="49" height="39"/><text class="k" x="1386" y="547" font-size="9">بترانس</text><rect class="D" x="1411" y="526" width="13" height="16"/><rect class="M" x="1411" y="542" width="13" height="23"/>
<rect class="W" x="1424" y="519" width="45" height="15"/><text class="h" x="1446" y="530">[+] اس...</text>
<rect class="X" x="1424" y="534" width="35" height="31"/><text x="1441" y="553" font-size="8">كط...</text><rect class="M" x="1459" y="534" width="10" height="31"/>
<rect class="W" x="1469" y="515" width="27" height="15"/><text class="h" x="1482" y="526">[+] ا...</text><rect class="M" x="1469" y="530" width="27" height="12"/>
<rect class="W" x="1496" y="515" width="27" height="15"/><text class="h" x="1509" y="526">[+...</text><rect class="M" x="1496" y="530" width="27" height="12"/>
<rect class="W" x="1523" y="515" width="28" height="15"/><text class="h" x="1537" y="526">[...</text><rect class="K" x="1523" y="530" width="28" height="12"/>
<rect class="W" x="1469" y="542" width="36" height="13"/><text class="h" x="1487" y="552">[+] كا...</text><rect class="M" x="1469" y="555" width="20" height="10"/><rect class="K" x="1489" y="555" width="16" height="10"/>
<rect class="W" x="1505" y="542" width="17" height="23"/><text class="h" x="1513" y="552">[...</text>
<rect class="W" x="1522" y="542" width="29" height="23"/>
</svg>
</body></html>
